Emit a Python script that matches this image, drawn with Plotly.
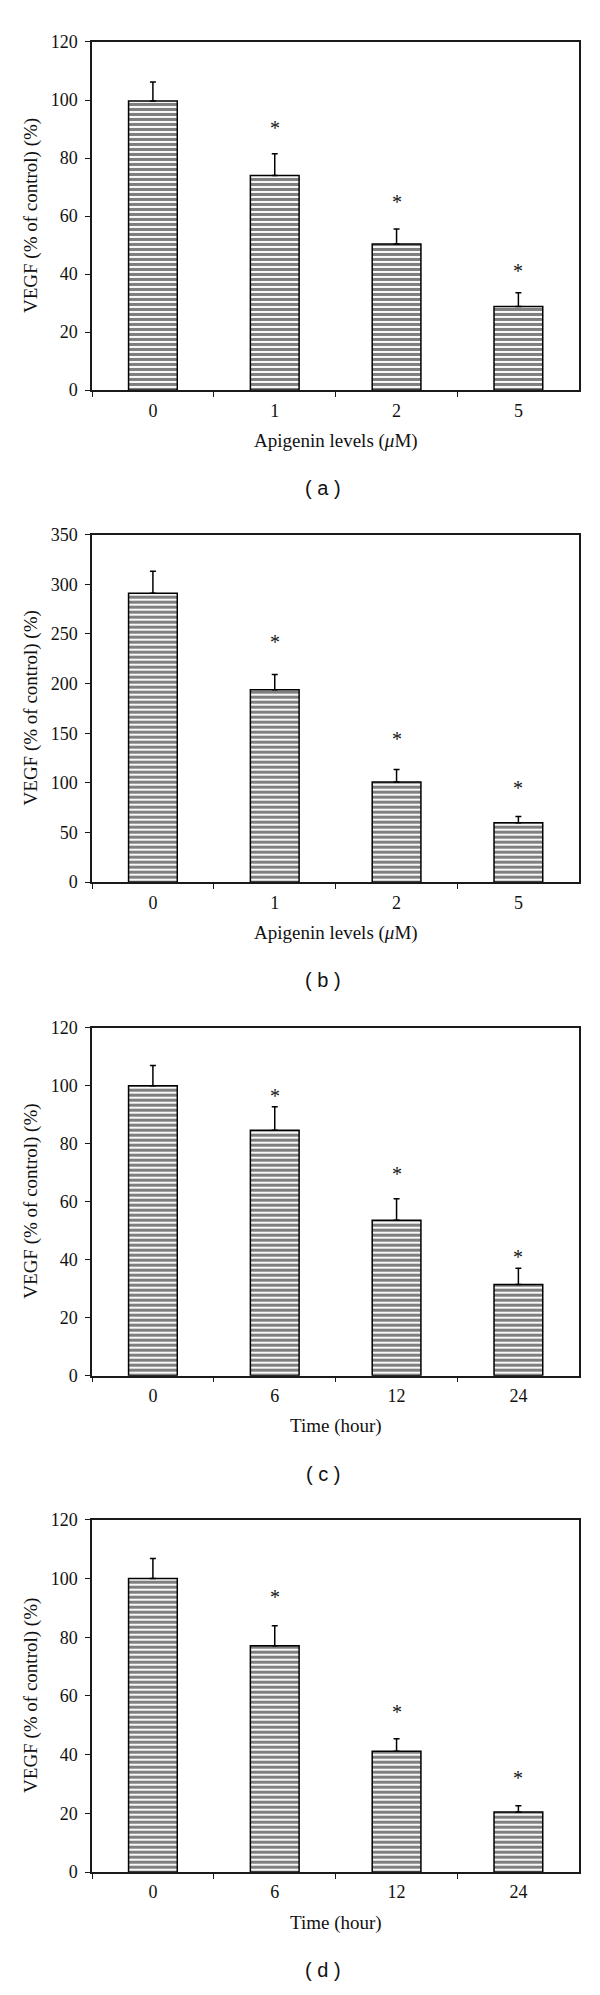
import plotly.graph_objects as go

W, H = 600, 1995

# ---- data ----
cats_conc = ["0", "1", "2", "5"]
cats_time = ["0", "6", "12", "24"]

vals_a = [99.7, 74.0, 50.4, 28.8]
err_a = [6.5, 7.5, 5.1, 4.8]
star_a = [None, 90.2, 65.0, 41.0]

vals_b = [291.0, 193.7, 101.0, 59.9]
err_b = [22.2, 15.6, 12.6, 6.3]
star_b = [None, 241.7, 144.7, 95.0]

vals_c = [100.0, 84.6, 53.6, 31.4]
err_c = [7.0, 8.1, 7.4, 5.6]
star_c = [None, 96.3, 69.6, 41.0]

vals_d = [100.0, 77.1, 41.2, 20.5]
err_d = [6.8, 6.8, 4.2, 2.1]
star_d = [None, 93.8, 54.6, 32.2]

ytitle = "VEGF (% of control) (%)"
xtitle_conc = "Apigenin levels (<i>μ</i>M)"
xtitle_time = "Time (hour)"

panels = [
    dict(cats=cats_conc, vals=vals_a, err=err_a, star=star_a, ymax=120, dtick=20,
         xtitle=xtitle_conc, label="( a )", top=32.3, bot=384.0),
    dict(cats=cats_conc, vals=vals_b, err=err_b, star=star_b, ymax=350, dtick=50,
         xtitle=xtitle_conc, label="( b )", top=530.0, bot=881.0),
    dict(cats=cats_time, vals=vals_c, err=err_c, star=star_c, ymax=120, dtick=20,
         xtitle=xtitle_time, label="( c )", top=1028.0, bot=1379.5),
    dict(cats=cats_time, vals=vals_d, err=err_d, star=star_d, ymax=120, dtick=20,
         xtitle=xtitle_time, label="( d )", top=1525.0, bot=1881.0),
]

SERIF = "Liberation Serif"
SANS = "Liberation Sans"
LINE = "#1a1a1a"
TXT = "#111111"
x0px, x1px = 92.0, 579.3

fig = go.Figure()
annotations = []
layout = {}

for i, p in enumerate(panels):
    n = "" if i == 0 else str(i + 1)
    xa, ya = "x" + n, "y" + n
    fig.add_trace(go.Bar(
        x=p["cats"], y=p["vals"], xaxis=xa, yaxis=ya, width=0.4,
        marker=dict(color="white", line=dict(color="black", width=1.5),
                    pattern=dict(shape="-", size=5, solidity=0.62,
                                 fgcolor="black", bgcolor="white", fillmode="overlay")),
        error_y=dict(type="data", symmetric=False, array=p["err"],
                     arrayminus=[0] * len(p["err"]), color="black",
                     thickness=1.5, width=3),
        showlegend=False, hoverinfo="skip",
    ))
    ydom = [1 - p["bot"] / H, 1 - p["top"] / H]
    layout["xaxis" + n] = dict(
        domain=[x0px / W, x1px / W], type="category", anchor=ya,
        tickson="boundaries", ticks="outside", ticklen=5, tickwidth=1.2,
        tickcolor=LINE, showline=True, linecolor=LINE, linewidth=1.5, mirror=True,
        showgrid=False, zeroline=False, range=[-0.5, 3.5],
        tickfont=dict(family=SERIF, size=18, color=TXT),
        ticklabelstandoff=3,
    )
    layout["yaxis" + n] = dict(
        domain=ydom, anchor=xa, range=[0, p["ymax"]], dtick=p["dtick"],
        ticks="outside", ticklen=5, tickwidth=1.2, tickcolor=LINE,
        showline=True, linecolor=LINE, linewidth=1.5, mirror=True,
        showgrid=False, zeroline=False,
        tickfont=dict(family=SERIF, size=18, color=TXT),
        ticklabelstandoff=4,
    )
    for j, s in enumerate(p["star"]):
        if s is not None:
            annotations.append(dict(
                x=j, y=s, xref=xa, yref=ya, text="*", showarrow=False,
                yanchor="middle", font=dict(family=SERIF, size=20, color=TXT),
            ))
    # y title
    annotations.append(dict(
        x=31 / W, y=1 - ((p["top"] + p["bot"]) / 2) / H, xref="paper", yref="paper",
        text=ytitle, textangle=-90, showarrow=False, xanchor="center", yanchor="middle",
        font=dict(family=SERIF, size=19, color=TXT),
    ))
    # x title
    annotations.append(dict(
        x=((x0px + x1px) / 2) / W, y=1 - (p["bot"] + 51) / H, xref="paper", yref="paper",
        text=p["xtitle"], showarrow=False, xanchor="center", yanchor="middle",
        font=dict(family=SERIF, size=19, color=TXT),
    ))
    # panel label
    annotations.append(dict(
        x=323 / W, y=1 - (p["bot"] + 99) / H, xref="paper", yref="paper",
        text=p["label"], showarrow=False, xanchor="center", yanchor="middle",
        font=dict(family=SANS, size=20, color=TXT),
    ))

fig.update_layout(
    width=W, height=H, margin=dict(l=0, r=0, t=0, b=0),
    paper_bgcolor="white", plot_bgcolor="white",
    annotations=annotations, **layout,
)

fig.write_html("out.html", config={"displayModeBar": False},
               post_script="document.body.style.margin='0';")
